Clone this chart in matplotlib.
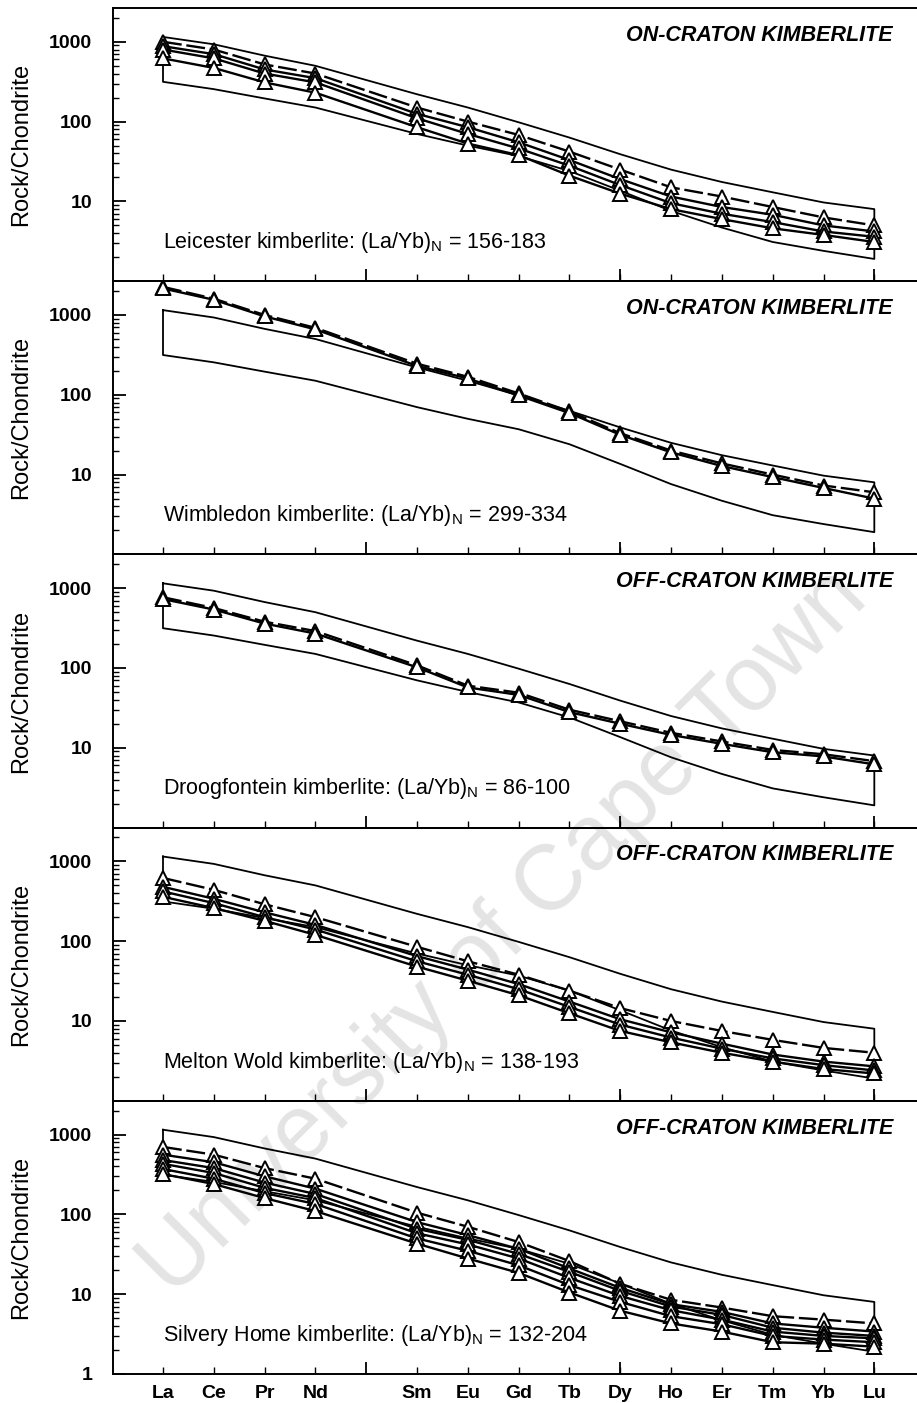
import matplotlib
matplotlib.use("Agg")
import matplotlib.pyplot as plt
from matplotlib.ticker import LogLocator, NullFormatter

plt.rcParams['font.family'] = ['Liberation Sans', 'DejaVu Sans']

# REE on the x axis (Pm left out, gap kept)
elements = ["La", "Ce", "Pr", "Nd", "Sm", "Eu", "Gd", "Tb", "Dy", "Ho", "Er", "Tm", "Yb", "Lu"]
x_pos = [0, 1, 2, 3, 5, 6, 7, 8, 9, 10, 11, 12, 13, 14]

# on-craton kimberlite field (same in every panel)
field_upper = [1150, 930, 670, 500, 220, 150, 98, 63, 39, 25, 17.5, 13, 9.7, 8.0]
field_lower = [315, 255, 195, 150, 70, 50, 37, 24, 13.6, 7.6, 4.7, 3.1, 2.4, 1.9]

leicester = [
    [1000, 800, 520, 400, 150, 100, 68, 42, 25, 15, 11.5, 8.5, 6.3, 5.0],
    [880, 700, 450, 350, 125, 85, 55, 33, 19, 11.5, 8.5, 6.8, 5.0, 4.2],
    [800, 620, 400, 310, 110, 70, 46, 28, 16, 9.5, 7.0, 5.5, 4.2, 3.6],
    [620, 470, 310, 230, 85, 53, 38, 21, 12.5, 8.0, 6.0, 4.6, 3.8, 3.1],
]
wimbledon = [
    [2250, 1600, 1000, 690, 245, 168, 104, 62, 33, 20, 13.8, 10, 7.3, 6.0],
    [2150, 1550, 960, 660, 230, 160, 98, 59, 31.5, 19, 12.8, 9.3, 6.8, 5.0],
]
droogfontein = [
    [770, 565, 380, 290, 108, 60, 49, 30, 21.5, 15.4, 12, 9.4, 8.3, 6.8],
    [730, 540, 360, 270, 102, 57, 46, 28, 20, 14.5, 11.2, 8.8, 7.8, 6.2],
]
melton_wold = [
    [620, 440, 290, 200, 85, 56, 38, 24, 14.5, 10, 7.5, 5.8, 4.6, 4.0],
    [480, 340, 230, 160, 65, 44, 29, 17.5, 10.5, 7.2, 5.2, 3.8, 3.1, 2.7],
    [420, 300, 200, 140, 56, 38, 25, 15, 9.0, 6.2, 4.5, 3.4, 2.8, 2.4],
    [360, 260, 180, 120, 48, 32, 21, 12.5, 7.5, 5.4, 4.0, 3.1, 2.5, 2.2],
]
silvery_home = [
    [700, 560, 380, 280, 105, 70, 45, 26, 13.5, 8.5, 6.8, 5.3, 4.8, 4.3],
    [560, 450, 300, 210, 80, 55, 37, 21, 12, 7.5, 6.0, 4.3, 3.8, 3.4],
    [480, 380, 250, 180, 66, 48, 32, 19, 11, 7.0, 5.5, 3.8, 3.3, 3.0],
    [430, 330, 215, 160, 58, 42, 28, 16, 9.5, 6.3, 4.8, 3.4, 3.0, 2.8],
    [370, 280, 185, 135, 50, 35, 23, 13, 8.0, 5.3, 4.2, 3.0, 2.7, 2.5],
    [320, 240, 160, 110, 43, 28, 18.5, 10.5, 6.2, 4.3, 3.4, 2.5, 2.4, 2.2],
]

panel_data = [leicester, wimbledon, droogfontein, melton_wold, silvery_home]
panel_names = ["Leicester", "Wimbledon", "Droogfontein", "Melton Wold", "Silvery Home"]
panel_ratios = ["156-183", "299-334", "86-100", "138-193", "132-204"]
panel_setting = ["ON-CRATON KIMBERLITE", "ON-CRATON KIMBERLITE", "OFF-CRATON KIMBERLITE",
                 "OFF-CRATON KIMBERLITE", "OFF-CRATON KIMBERLITE"]

fig = plt.figure(figsize=(9.17, 14.03), dpi=100)
gs = fig.add_gridspec(5, 1, left=113/917, right=1.0, top=1-8/1403, bottom=1-1374/1403, hspace=0)

# watermark of the scanned thesis page
fig.text(0.55, 0.335, "University of Cape Town", rotation=45, fontsize=66, color="#e4e4e4",
         ha="center", va="center", rotation_mode="anchor", zorder=-5)

field_x = x_pos + x_pos[::-1] + [x_pos[0]]
field_y = field_upper + field_lower[::-1] + [field_upper[0]]

for i, series in enumerate(panel_data):
    ax = fig.add_subplot(gs[i, 0])
    ax.set_facecolor("none")
    ax.set_yscale("log")
    ax.set_xlim(-0.984, 14.84)
    ax.set_ylim(1, 2650)

    ax.plot(field_x, field_y, color="black", lw=1.3, zorder=2)

    for j, vals in enumerate(series):
        ls = (0, (8, 2)) if j == 0 else "-"
        ax.plot(x_pos, vals, color="black", lw=1.7, ls=ls, marker="^", ms=10.5,
                mfc="white", mec="black", mew=1.4, zorder=3 + j * 0.01)

    ax.text(0.970, 0.90, panel_setting[i], transform=ax.transAxes, ha="right", va="center",
            fontsize=15.5, fontweight="bold", fontstyle="italic")
    ax.text(0.062, 0.142, panel_names[i] + " kimberlite: (La/Yb)$_\\mathregular{N}$ = " + panel_ratios[i],
            transform=ax.transAxes, ha="left", va="center", fontsize=15.5)

    # ticks
    ax.spines["right"].set_visible(False)
    for s in ["left", "top", "bottom"]:
        ax.spines[s].set_linewidth(1.4)
    if i == 4:
        ax.set_yticks([1, 10, 100, 1000])
        ax.set_yticklabels(["1", "10", "100", "1000"])
    else:
        ax.set_yticks([10, 100, 1000])
        ax.set_yticklabels(["10", "100", "1000"])
    ax.yaxis.set_minor_locator(LogLocator(base=10, subs=range(2, 10)))
    ax.yaxis.set_minor_formatter(NullFormatter())
    ax.tick_params(axis="y", which="major", direction="in", length=9, width=1.3, pad=15,
                   labelsize=14, right=False)
    ax.tick_params(axis="y", which="minor", direction="in", length=4.5, width=1.0, right=False)
    for lab in ax.get_yticklabels():
        lab.set_fontweight("bold")

    ax.xaxis.remove_overlapping_locs = False
    ax.set_xticks([4, 9, 14])
    ax.set_xticklabels([])
    ax.set_xticks(x_pos, minor=True)
    if i == 4:
        ax.set_xticklabels(elements, minor=True, fontweight="bold", fontsize=14)
    else:
        ax.set_xticklabels([], minor=True)
    ax.tick_params(axis="x", which="major", direction="in", length=9, width=1.3, top=False)
    ax.tick_params(axis="x", which="minor", direction="in", length=5, width=1.0, pad=8, top=False)

    ax.set_ylabel("Rock/Chondrite", fontsize=17)
    ax.yaxis.set_label_coords(-0.100, 0.5)

fig.savefig("out.png", dpi=100)
